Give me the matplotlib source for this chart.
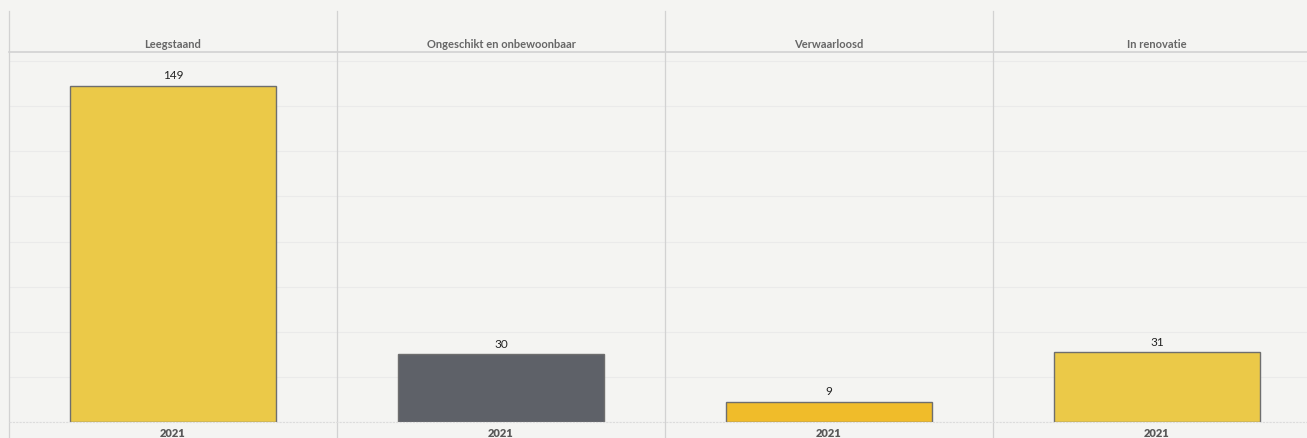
import matplotlib
matplotlib.use('Agg')
import matplotlib.pyplot as plt
from matplotlib.lines import Line2D

# data
categories = ['Leegstaand', 'Ongeschikt en onbewoonbaar', 'Verwaarloosd', 'In renovatie']
years = ['2021']
values = [149, 30, 9, 31]
colors = ['#EBC948', '#5E6168', '#F0BC2A', '#EBC948']

plt.rcParams['font.family'] = ['Lato', 'DejaVu Sans']

W, H = 1307, 438
fig = plt.figure(figsize=(W / 100, H / 100), dpi=100)
fig.patch.set_facecolor('#F4F4F2')

left = 9 / W
bottom, top = (H - 422) / H, (H - 52) / H
pw = 328 / W

line_col = '#D2D2D2'
for i, (cat, val, col) in enumerate(zip(categories, values, colors)):
    ax = fig.add_axes([left + i * pw, bottom, pw, top - bottom])
    ax.set_facecolor('none')
    ax.bar(years, [val], width=0.63, color=col, edgecolor='#6E6E6E', linewidth=1.0, zorder=3)
    ax.set_xlim(-0.5, 0.5)
    ax.set_ylim(0, 164)
    ax.set_yticks(range(0, 161, 20))
    ax.yaxis.grid(True, color='#EAEAEA', linewidth=0.8, zorder=0)
    ax.tick_params(left=False, bottom=False, labelleft=False)
    for s in ax.spines.values():
        s.set_visible(False)
    ax.set_xticks([0], years, fontsize=8, fontweight='heavy', color='#595959')
    ax.tick_params(axis='x', pad=1)
    ax.text(0, val + 2, str(val), ha='center', va='bottom', fontsize=8.5, color='#222222', zorder=4)
    ax.text(0.5, 1.0 + 7 / (422 - 52), cat, transform=ax.transAxes, ha='center', va='center',
            fontsize=8, fontweight='bold', color='#666666')
    # vertical separator on the left of each panel
    x = left + i * pw
    fig.add_artist(Line2D([x, x], [0, (H - 11) / H], color=line_col, linewidth=0.9))

# header line and baseline
fig.add_artist(Line2D([left, 1], [top, top], color=line_col, linewidth=1.2))
fig.add_artist(Line2D([left, 1], [bottom, bottom], color='#DCDCDC', linewidth=0.8, linestyle=(0, (2, 1))))

fig.savefig('out.png', dpi=100, facecolor=fig.get_facecolor())
